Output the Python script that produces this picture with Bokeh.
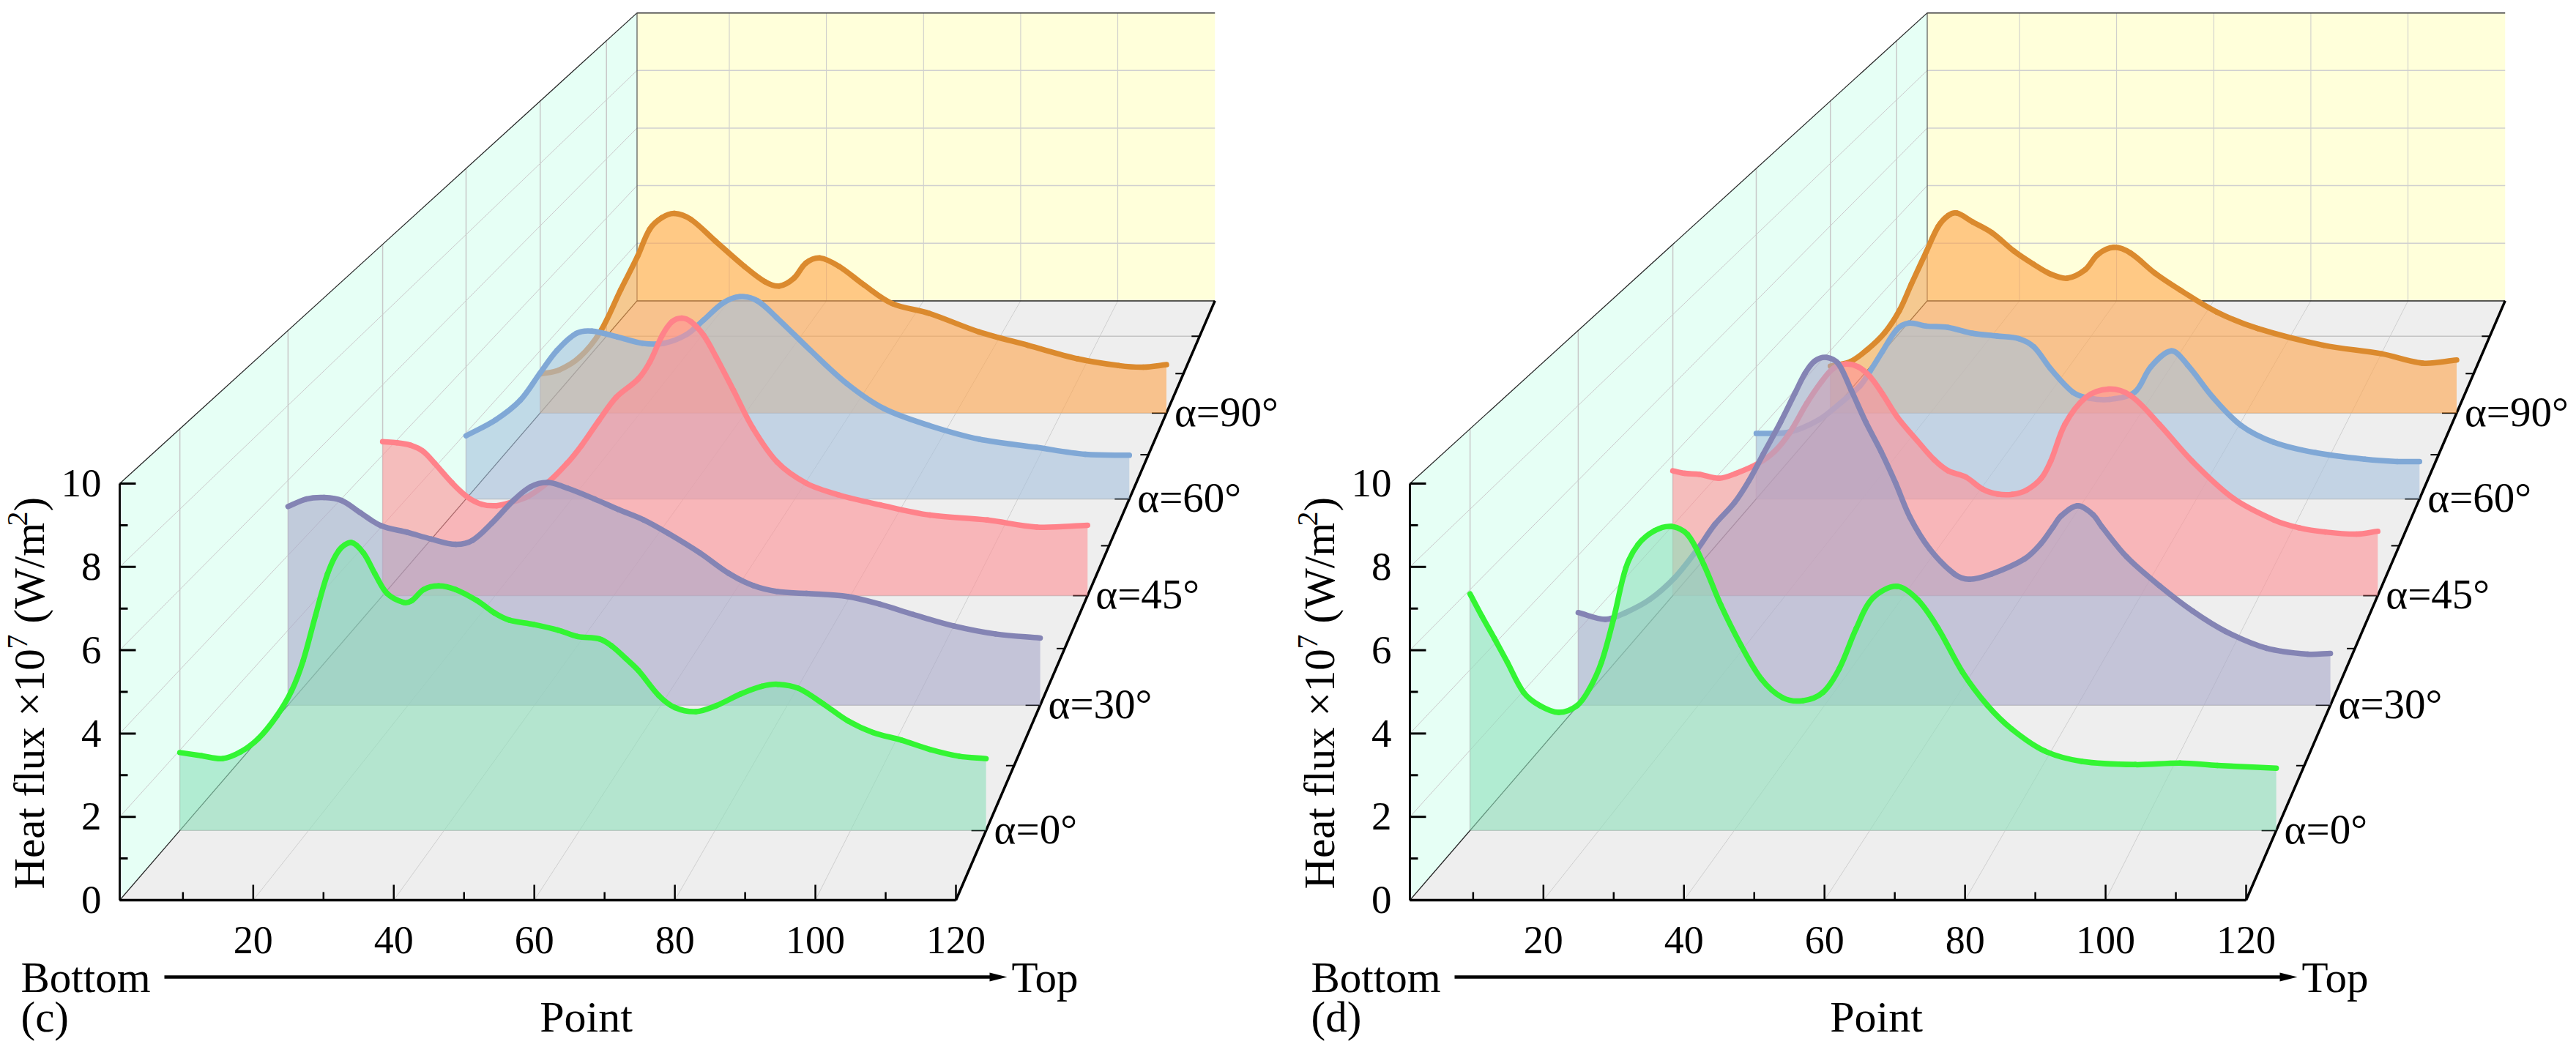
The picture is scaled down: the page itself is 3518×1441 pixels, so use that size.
import math
from bokeh.plotting import figure
from bokeh.models import Range1d
from bokeh.core.properties import value
from bokeh.embed import file_html
from bokeh.resources import INLINE

# ---------------- data: point index and heat flux (x10^7 W/m2) ----------------
c_p0 = [1,4.2,7.3,10,12.6,15.3,17.5,19.2,21,22.8,24.5,26.3,28.1,29.8,31.6,34,35.2,37,39.2,41.7,44.9,47.4,49.6,53.2,56.8,59.7,62.9,64.7,66.9,68.7,71.7,74.1,77.2,80.2,83.8,86.9,89.3,92.3,96,99.6,103.3,107.5,111.7,116,120]
c_v0 = [1.94,1.86,1.79,1.96,2.29,2.85,3.48,4.23,5.34,6.39,6.98,7.17,6.91,6.39,5.90,5.68,5.72,6.00,6.09,6.00,5.72,5.42,5.24,5.13,4.99,4.83,4.77,4.60,4.27,3.98,3.36,3.06,2.96,3.11,3.40,3.59,3.64,3.54,3.15,2.73,2.44,2.25,2.02,1.85,1.79]
c_p30 = [1,3.9,6.7,9.5,12.4,15.7,19.9,23.7,27.5,30.2,33.2,36.7,39.4,42.1,45.2,49.5,53.3,57.2,61.1,66.1,70.7,74.6,78.4,83,89.5,94.7,99.9,106.4,112.9,120]
c_v30 = [5.30,5.50,5.54,5.46,5.14,4.79,4.61,4.43,4.29,4.40,4.85,5.47,5.83,5.94,5.79,5.50,5.22,4.95,4.59,4.07,3.52,3.19,3.03,2.98,2.90,2.69,2.42,2.11,1.90,1.79]
c_p45 = [1,3.4,5.7,7.8,9.8,12.7,15.2,17.7,20.2,22.6,25.5,28.8,32.1,34.6,37.5,40.4,44.1,46.1,48.2,49.8,51.5,53.1,55.2,57.3,60.2,63.5,67.6,72.5,78.1,85,93.4,103.1,111.4,120]
c_v45 = [4.38,4.35,4.28,4.11,3.76,3.21,2.82,2.60,2.56,2.65,2.82,3.21,3.76,4.28,4.98,5.64,6.16,6.65,7.41,7.79,7.90,7.79,7.41,6.79,5.85,4.77,3.80,3.20,2.86,2.58,2.29,2.15,1.95,2.00]
c_p60 = [1,6.3,10.7,14.2,17.3,20.8,23.6,28.2,32.6,36.5,40.5,43.6,47.1,50.1,53.2,56.7,62.7,69.3,76,84.1,93,103.3,112.1,120]
c_v60 = [1.91,2.39,2.98,3.79,4.49,5.01,5.08,4.90,4.71,4.71,4.97,5.41,5.93,6.12,6.00,5.49,4.51,3.49,2.73,2.22,1.81,1.56,1.35,1.32]
c_p90 = [1,4.6,8.5,12.4,16.3,19.5,21.8,24.1,26.5,29.6,34.3,39.8,43.7,46.4,49.2,51.5,54.2,57.8,62.5,67.9,75,84.4,93.7,103.1,111,115.6,120]
c_v90 = [1.25,1.38,1.79,2.60,3.95,5.02,5.89,6.26,6.40,6.21,5.51,4.70,4.21,4.07,4.32,4.81,4.97,4.70,4.11,3.51,3.19,2.60,2.17,1.74,1.52,1.47,1.55]

d_p0 = [1,2.8,4.6,6.5,8.9,11.3,14.1,16.8,18.6,20.4,22.2,24,25.8,28.3,30.7,33.1,35.5,38,41,44,47.1,50.1,53.1,55.5,58,60.4,64,67.1,70.1,73.7,77.4,81,85.8,91.3,99.2,105.8,111.3,120]
d_v0 = [5.89,5.32,4.78,4.19,3.44,3.11,2.94,3.11,3.52,4.19,5.28,6.54,7.12,7.47,7.57,7.37,6.62,5.62,4.61,3.77,3.31,3.23,3.44,4.03,5.03,5.78,6.08,5.74,5.03,3.94,3.11,2.52,1.98,1.72,1.64,1.68,1.62,1.55]
d_p30 = [1,5.3,8.5,12.4,16.3,19.9,22.6,25.7,28,30.3,33,35.3,36.9,38.4,40.3,42.1,44.2,46.5,48.9,51.2,53.5,56.6,60.5,62.9,66.4,71.6,74.2,76.1,77.4,80,82.4,83.9,87.8,93,98.2,103.4,109.9,116.4,120]
d_v30 = [2.47,2.29,2.47,2.83,3.41,4.17,4.82,5.40,5.99,6.71,7.55,8.33,8.86,9.18,9.28,9.12,8.40,7.55,6.77,5.93,5.01,4.17,3.50,3.36,3.50,3.90,4.31,4.75,5.05,5.32,5.09,4.75,3.95,3.18,2.51,1.97,1.52,1.36,1.38]
d_p45 = [1,3,5.5,8.8,11.7,15.4,18.2,20.7,23.6,26.1,28.1,30.2,32.3,34.3,36.4,38.9,42.2,45.1,47.5,50.4,53.3,55.8,58.3,60.7,63.2,64.8,67.2,70.7,74.5,78.3,83.1,88.7,95.6,102.5,106.7,111.1,116.4,120]
d_v45 = [3.55,3.48,3.45,3.34,3.48,3.76,4.11,4.63,5.47,6.09,6.47,6.59,6.51,6.23,5.74,5.08,4.42,3.87,3.55,3.38,3.03,2.89,2.88,3.00,3.34,3.83,4.88,5.64,5.88,5.69,4.88,3.82,2.77,2.15,1.93,1.81,1.75,1.83]
d_p60 = [1,6.9,12.2,16.1,19.6,21.4,23.6,26.2,28.4,31.5,35.4,39.8,44.2,48.1,50.8,53.8,57.8,60.7,64.4,68.9,71.8,75.5,78.4,82.9,88,93.9,101.3,110.2,116,120]
d_v60 = [1.98,2.02,2.39,2.90,3.42,3.86,4.45,5.12,5.32,5.23,5.19,5.01,4.93,4.85,4.60,3.94,3.23,3.05,3.01,3.23,4.00,4.48,4.05,3.08,2.22,1.71,1.40,1.20,1.13,1.13]
d_p90 = [1,4.8,8,11.3,14.1,16.4,19.2,21.5,23.4,25,28,31.7,35.9,39.6,42.9,46,49.4,51.8,54.9,58,62.7,67.4,74.4,82.2,94.7,105.7,113.5,120]
d_v90 = [1.50,1.65,2.03,2.57,3.28,4.14,5.16,5.98,6.33,6.41,6.13,5.78,5.19,4.77,4.45,4.32,4.59,5.08,5.31,5.13,4.48,3.95,3.24,2.71,2.17,1.90,1.60,1.70]

series_labels = ["α=0°", "α=30°", "α=45°", "α=60°", "α=90°"]
series_depth = [0.5, 1.5, 2.5, 3.5, 4.5]
line_colors = ["#33F533", "#8484B4", "#FF828A", "#80A8D6", "#DB8A2E"]
fill_colors = ["#8DDFBA", "#A8A8C9", "#FF9196", "#A6C1DE", "#FFA54C"]
x_ticks = [20, 40, 60, 80, 100, 120]
y_ticks = [0, 2, 4, 6, 8, 10]
panels = [("(c)", 0, [(c_p0, c_v0), (c_p30, c_v30), (c_p45, c_v45), (c_p60, c_v60), (c_p90, c_v90)]),
          ("(d)", 1762, [(d_p0, d_v0), (d_p30, d_v30), (d_p45, d_v45), (d_p60, d_v60), (d_p90, d_v90)])]

# ---------------- perspective box geometry ----------------
X0, XF, Y0, VPX = 163.0, 1305.0, 1229.0, 56.9
VX, VY, K = 2450.0, -1421.0, 0.0745
ZMAX = 6.0
FONT = value("Liberation Serif")

def proj(pt, v, z, off):
    s = 1.0 / (1.0 + K * z)
    xf = X0 + (pt - 1.0) * (XF - X0) / 119.0
    yf = Y0 - v * VPX
    return off + VX + (xf - VX) * s, VY + (yf - VY) * s

p = figure(width=3510, height=1425, output_backend="svg", toolbar_location=None,
           x_range=Range1d(0, 3510), y_range=Range1d(1425, 0),
           min_border=0, outline_line_color=None, x_axis_location=None, y_axis_location=None)
p.grid.visible = False
p.background_fill_color = "white"

def quad(a, off, color):
    pts = [proj(*q, off) for q in a]
    p.patch([q[0] for q in pts], [q[1] for q in pts], fill_color=color, line_color=None)

def seg(a, b, off, color="#CACACA", w=1.0):
    x1, y1 = proj(*a, off)
    x2, y2 = proj(*b, off)
    p.line([x1, x2], [y1, y2], line_color=color, line_width=w)

def txt(x, y, s, size, align="left", angle=0.0):
    # x, y name the text's baseline; a middle-anchored text sits 0.35 em above it
    if angle:
        x -= 0.35 * size
    else:
        y -= 0.35 * size
    p.text([x], [y], text=[s], text_font=FONT, text_font_size=value(f"{size}px"), text_color="black",
           text_align=align, text_baseline="middle", angle=angle)

def curve(xs, ys, color):
    # a smooth stroke through the read points, drawn with Bezier segments
    n = len(xs)
    d = [math.hypot(xs[i + 1] - xs[i], ys[i + 1] - ys[i]) or 1.0 for i in range(n - 1)]
    mx, my = [0.0] * n, [0.0] * n
    for i in range(n):
        a, b = max(i - 1, 0), min(i + 1, n - 1)
        span = sum(d[a:b])
        mx[i], my[i] = (xs[b] - xs[a]) / span, (ys[b] - ys[a]) / span
    p.bezier(xs[:-1], ys[:-1], xs[1:], ys[1:],
             [xs[i] + mx[i] * d[i] / 3 for i in range(n - 1)],
             [ys[i] + my[i] * d[i] / 3 for i in range(n - 1)],
             [xs[i + 1] - mx[i + 1] * d[i] / 3 for i in range(n - 1)],
             [ys[i + 1] - my[i + 1] * d[i] / 3 for i in range(n - 1)],
             line_color=color, line_width=7.5, line_cap="round")

for tag, off, curves in panels:
    # walls and floor
    quad([(1, 0, ZMAX), (120, 0, ZMAX), (120, 10, ZMAX), (1, 10, ZMAX)], off, "#FFFFDA")
    quad([(1, 0, 0), (1, 0, ZMAX), (1, 10, ZMAX), (1, 10, 0)], off, "#E6FFF5")
    quad([(1, 0, 0), (120, 0, 0), (120, 0, ZMAX), (1, 0, ZMAX)], off, "#EEEEEE")
    # grids
    for t in x_ticks[:-1]:
        seg((t, 0, ZMAX), (t, 10, ZMAX), off)
        seg((t, 0, 0), (t, 0, ZMAX), off, "#CFCFCF", 1)
    for v in y_ticks[1:-1]:
        seg((1, v, ZMAX), (120, v, ZMAX), off, "#D0D0D0", 1.5)
        seg((1, v, 0), (1, v, ZMAX), off, "#CACACA", 1)
    for z in series_depth + [5.5]:
        seg((1, 0, z), (1, 10, z), off, "#C8C8C8", 1.5)
        seg((1, 0, z), (120, 0, z), off, "#C4C4C4", 1.5)
    # frame
    seg((1, 10, 0), (1, 10, ZMAX), off, "#222222", 1.2)
    seg((1, 0, 0), (1, 0, ZMAX), off, "#222222", 1.2)
    seg((1, 0, ZMAX), (1, 10, ZMAX), off, "#555555", 1.2)
    seg((1, 10, ZMAX), (120, 10, ZMAX), off, "#333333", 1.5)
    seg((1, 0, ZMAX), (120, 0, ZMAX), off, "#222222", 1.5)
    seg((1, 0, 0), (1, 10, 0), off, "#111111", 3)
    seg((1, 0, 0), (120, 0, 0), off, "black", 3.5)
    seg((120, 0, 0), (120, 0, ZMAX), off, "black", 3.5)
    # ticks on the value axis
    for v in range(0, 11):
        x, y = proj(1, v, 0, off)
        p.line([x, x + (22 if v % 2 == 0 else 11)], [y, y], line_color="black", line_width=3)
    # ticks on the point axis
    for t in range(10, 121, 10):
        x, y = proj(t, 0, 0, off)
        p.line([x, x], [y, y - (21 if t % 20 == 0 else 11)], line_color="black", line_width=2.5)
    # ticks on the depth axis
    for z in [0.5, 1, 1.5, 2, 2.5, 3, 3.5, 4, 4.5, 5, 5.5]:
        x, y = proj(120, 0, z, off)
        ln = 20 if z in series_depth else 11
        p.line([x - ln, x], [y, y], line_color="black", line_width=2)
    # curves, back to front
    for i in range(4, -1, -1):
        pts, vals = curves[i]
        z = series_depth[i]
        xy = [proj(a, b, z, off) for a, b in zip(pts, vals)]
        xs = [q[0] for q in xy]
        ys = [q[1] for q in xy]
        bx1, by1 = proj(pts[-1], 0, z, off)
        bx0, by0 = proj(pts[0], 0, z, off)
        p.patch(xs + [bx1, bx0], ys + [by1, by0], fill_color=fill_colors[i], fill_alpha=0.6, line_color=None)
        curve(xs, ys, line_colors[i])
    # labels
    for v in y_ticks:
        x, y = proj(1, v, 0, off)
        txt(x - 25, y + 19, str(v), 55, "right")
    for t in x_ticks:
        x, y = proj(t, 0, 0, off)
        txt(x, 1302, str(t), 54, "center")
    for z, lab in zip(series_depth, series_labels):
        x, y = proj(120, 0, z, off)
        txt(x + 11, y + 18, lab, 57)
    up = math.pi / 2
    txt(off + 60, 1214, "Heat flux ×10", 59, angle=up)
    txt(off + 37, 886, "7", 40, angle=up)
    txt(off + 60, 851, "(W/m", 59, angle=up)
    txt(off + 37, 718, "2", 40, angle=up)
    txt(off + 60, 698, ")", 59, angle=up)
    txt(off + 28, 1355, "Bottom", 59)
    txt(off + 1381, 1355, "Top", 59)
    txt(off + 800, 1409, "Point", 60, "center")
    txt(off + 28, 1409, tag, 59)
    # Bottom -> Top arrow
    p.line([off + 224, off + 1355], [1334, 1334], line_color="black", line_width=4.5)
    p.patch([off + 1351, off + 1375, off + 1351], [1328, 1334, 1340], fill_color="black", line_color=None)

open("out.html", "w").write(file_html(p, INLINE))
